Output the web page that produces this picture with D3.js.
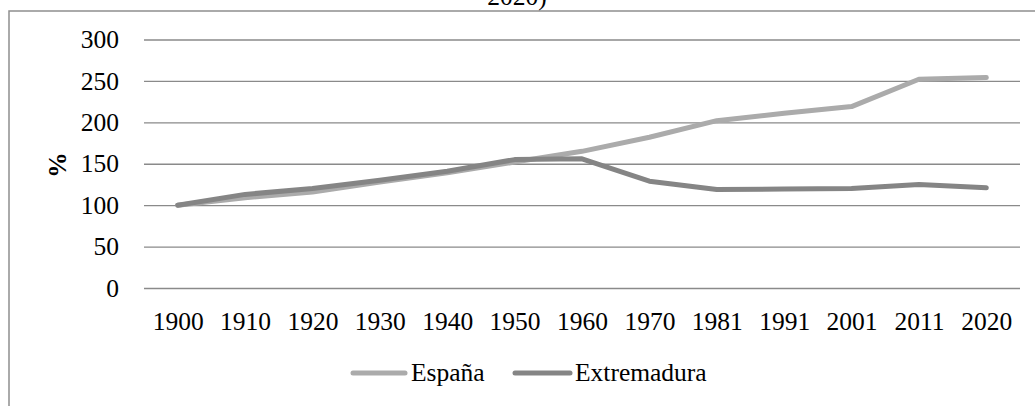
<!DOCTYPE html>
<html><head><meta charset="utf-8">
<script src="https://cdn.jsdelivr.net/npm/d3@7"></script>
<style>html,body{margin:0;padding:0;background:#fff;overflow:hidden}svg{display:block}text{font-family:"Liberation Serif","Times New Roman",serif;fill:#000}</style>
</head><body><svg id="c" width="1035" height="406"></svg>
<script>
const years = ["1900","1910","1920","1930","1940","1950","1960","1970","1981","1991","2001","2011","2020"];
const espana = [100,109,116,128,139,152,165,182,202,211,219,252,254];
const extremadura = [100,113,120,130,141,155,156,129,119,119.5,120,125,121];
const yTicks = [0,50,100,150,200,250,300];
const seriesNames = ["España","Extremadura"];
const seriesColors = ["#ababab","#858585"];

const svg = d3.select("#c");
const fs = 25.5;
// outer frame
svg.append("rect").attr("x",9).attr("y",11).attr("width",1100).attr("height",500)
  .attr("fill","none").attr("stroke","#8e8e8e").attr("stroke-width",1.5);
// title line (clipped at top as in the reference)
svg.append("text").attr("x",517).attr("y",5).attr("text-anchor","middle")
  .style("font-size",fs+"px").text("2020)");

const x = d3.scalePoint().domain(years).range([144,1020]).padding(0.5);
const y = d3.scaleLinear().domain([0,300]).range([288,39.5]);

const yAxis = svg.append("g").attr("transform","translate(144,0)")
  .call(d3.axisLeft(y).tickValues(yTicks).tickSize(-876).tickPadding(25).tickFormat(d3.format("d")));
yAxis.select(".domain").remove();
yAxis.selectAll(".tick line").attr("stroke","#8a8a8a").attr("stroke-width",1.4);
yAxis.selectAll(".tick text").style("font-size",fs+"px").attr("fill","#000")
  .style("font-family","'Liberation Serif',serif");

const xAxis = svg.append("g").attr("transform","translate(0,288)")
  .call(d3.axisBottom(x).tickSize(0).tickPadding(24));
xAxis.select(".domain").remove();
xAxis.selectAll(".tick text").style("font-size",fs+"px").attr("fill","#000")
  .style("font-family","'Liberation Serif',serif");

svg.append("text").attr("transform","translate(66,165) rotate(-90)")
  .attr("text-anchor","middle").style("font-size",fs+"px").style("font-weight","bold").text("%");

const line = d3.line().x((d,i)=>x(years[i])).y(d=>y(d));
[espana, extremadura].forEach((s,k)=>{
  svg.append("path").datum(s).attr("d",line).attr("fill","none")
    .attr("stroke",seriesColors[k]).attr("stroke-width",5)
    .attr("stroke-linecap","round").attr("stroke-linejoin","round");
});

// legend
const leg = [{x1:353,x2:405,tx:411},{x1:515,x2:570,tx:575}];
leg.forEach((l,k)=>{
  svg.append("line").attr("x1",l.x1).attr("x2",l.x2).attr("y1",373).attr("y2",373)
    .attr("stroke",seriesColors[k]).attr("stroke-width",5).attr("stroke-linecap","round");
  svg.append("text").attr("x",l.tx).attr("y",381).style("font-size",fs+"px").text(seriesNames[k]);
});
</script></body></html>
